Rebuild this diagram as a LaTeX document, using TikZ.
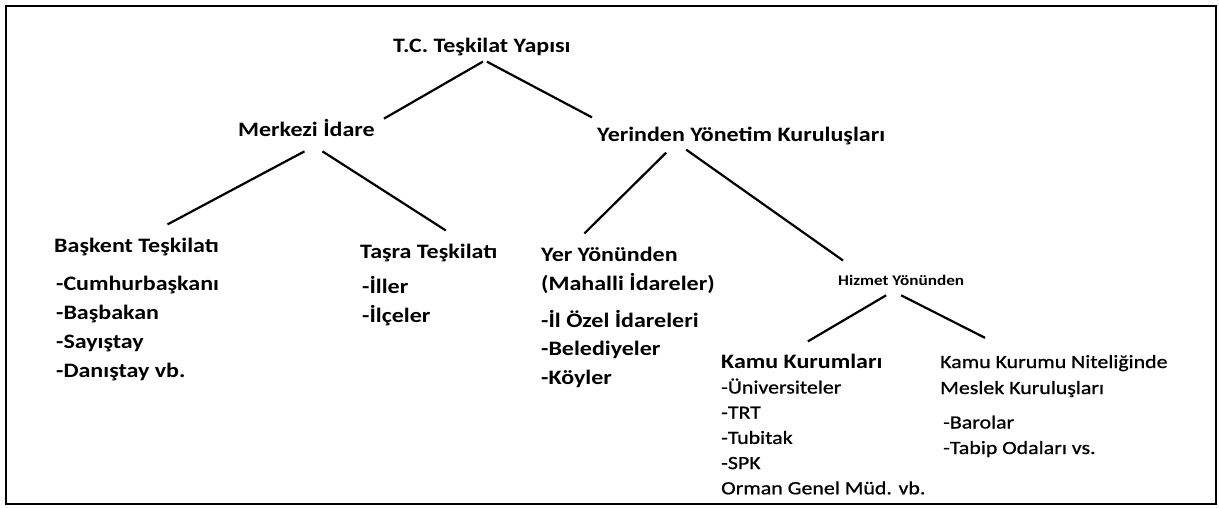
\documentclass[tikz,border=0pt]{standalone}
\usepackage{fontspec}
\setmainfont{Carlito}[FakeStretch=1.17]
\newfontfamily\heavyreg{Carlito}[FakeStretch=1.17,FakeBold=0.8]

\begin{document}
\begin{tikzpicture}[x=1pt,y=-1pt,
                    title/.style={font=\bfseries\fontsize{20.5}{24}\selectfont,
                                  inner sep=0pt, anchor=base west},
                    small/.style={title, font=\bfseries\fontsize{14.7}{18}\selectfont},
                    plain/.style={title, font=\heavyreg\fontsize{18.7}{22}\selectfont},
                    link/.style={line width=2.2pt}]
  \useasboundingbox (0,0) rectangle (1219,507);
  \draw[line width=1.8pt] (6,6) rectangle (1216,504);

  % headings
  \node[title] (tc)       at (393,52)  {T.C. Teşkilat Yapısı};
  \node[title] (merkezi)  at (238,136) {Merkezi İdare};
  \node[title] (yerinden) at (597,141) {Yerinden Yönetim Kuruluşları};
  \node[title] (baskent)  at (54,252)  {Başkent Teşkilatı};
  \node[title] (tasra)    at (360,258) {Taşra Teşkilatı};
  \node[title] (yer)      at (541,261) {Yer Yönünden};
  \node[title] (mahalli)  at (541,290) {(Mahalli İdareler)};
  \node[small] (hizmet)   at (838,285) {Hizmet Yönünden};
  \node[title] (kamu)     at (721,368) {Kamu Kurumları};
  \node[plain] (kknit)    at (940,368) {Kamu Kurumu Niteliğinde};
  \node[plain] (meslek)   at (940,394) {Meslek Kuruluşları};

  % lists
  \foreach \t [count=\i from 0] in {-Cumhurbaşkanı,-Başbakan,-Sayıştay,-Danıştay vb.}
    \node[title] (bk\i) at (56,290.5+29*\i) {\t};
  \foreach \t [count=\i from 0] in {-İller,-İlçeler}
    \node[title] (ts\i) at (362,293+29.5*\i) {\t};
  \foreach \t [count=\i from 0] in {-İl Özel İdareleri,-Belediyeler,-Köyler}
    \node[title] (yr\i) at (541,327+28.5*\i) {\t};
  \foreach \t [count=\i from 0] in {-Üniversiteler,-TRT,-Tubitak,-SPK,Orman Genel Müd. vb.}
    \node[plain] (km\i) at (721,393.5+25.2*\i) {\t};
  \foreach \t [count=\i from 0] in {-Barolar,-Tabip Odaları vs.}
    \node[plain] (ms\i) at (943,428.5+25.5*\i) {\t};

  % connectors
  \draw[link] ([xshift=1pt,yshift=-6pt]tc.south) -- ([xshift=9pt]merkezi.north east);
  \draw[link] ([xshift=5pt,yshift=-6pt]tc.south) -- ([xshift=-5pt,yshift=9pt]yerinden.north west);
  \draw[link] ([xshift=-2pt,yshift=-15pt]merkezi.south) -- ([xshift=31pt,yshift=13pt]baskent.north);
  \draw[link] ([xshift=16pt,yshift=-15pt]merkezi.south) -- ([xshift=17pt,yshift=13pt]tasra.north);
  \draw[link] ([xshift=-75pt,yshift=-8pt]yerinden.south) -- ([xshift=-25pt,yshift=13pt]yer.north);
  \draw[link] ([xshift=-55pt,yshift=-5pt]yerinden.south) -- ([xshift=5pt,yshift=14pt]hizmet.north west);
  \draw[link] ([xshift=-15pt,yshift=-10pt]hizmet.south) -- ([xshift=6pt,yshift=12pt]kamu.north);
  \draw[link] ([yshift=-10pt]hizmet.south) -- ([xshift=45pt,yshift=17pt]kknit.north west);
\end{tikzpicture}
\end{document}
